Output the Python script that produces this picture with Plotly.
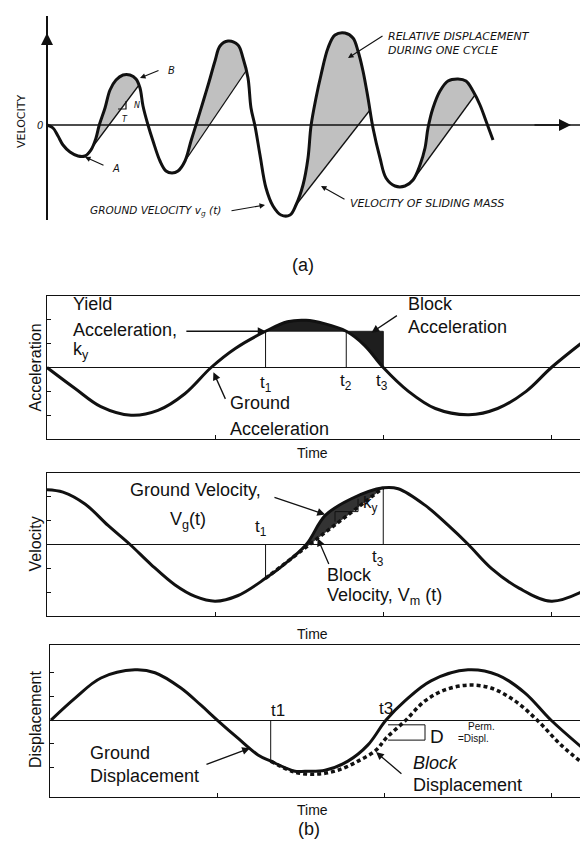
import plotly.graph_objects as go

W, H = 588, 848

# ---------------- Panel (a): velocity record ----------------
a_time = [0, 0.6, 1.1, 1.6, 2.3, 3.1, 3.8, 4.4, 4.9, 5.2, 5.8, 6.3, 6.9, 7.6, 8.3, 8.9, 9.3, 9.6,
          10.1, 10.6, 11.3, 11.9, 12.5, 13.1, 13.8, 14.4, 14.9, 15.6, 16.2, 16.8, 17.3, 18.1, 19.1,
          19.6, 20.1, 20.4, 20.8, 21.3, 21.9, 22.6, 23.4, 24.3, 24.9, 25.6, 26.1, 26.4, 26.9, 27.4,
          28.1, 28.8, 29.8, 30.6, 31.1, 31.6, 32.1, 32.6, 33.3, 33.9, 34.8, 35.8, 36.6, 37.3, 37.8,
          38.1, 38.6, 39.3, 40.1, 41.1, 41.9, 42.6, 43.3, 43.9, 44.6]
a_ground = [0, -0.3, -1.1, -2.0, -2.7, -3.1, -3.1, -2.5, -1.3, -0.1, 1.7, 3.5, 4.5, 5.0, 5.0, 4.6, 3.7, 1.9,
            0, -1.6, -3.6, -4.6, -4.8, -4.6, -3.6, -1.6, 0, 2.3, 4.3, 6.4, 7.9, 8.4, 8.0,
            6.7, 4.7, 1.7, -0.1, -3.0, -6.3, -8.1, -9.0, -9.0, -8.0, -6.0, -3.3, -0.1, 2.7, 5.0,
            7.7, 9.0, 9.2, 8.7, 7.4, 5.4, 2.7, -0.3, -3.3, -5.3, -6.1, -6.1, -5.5, -4.0, -2.3,
            -0.3, 1.7, 3.4, 4.4, 4.6, 4.4, 3.4, 2.0, 0.4, -1.5]
slide_t_start = [4.1, 13.6, 24.9, 36.6]
slide_v_start = [-2.8, -3.9, -8.0, -5.5]
slide_t_end = [9.2, 19.9, 32.3, 42.8]
slide_v_end = [4.0, 5.4, 1.5, 3.0]

# ---------------- Panel (b): acceleration ----------------
acc_time = [0, 0.167, 0.32, 0.5, 0.66, 0.82, 0.976, 1.12, 1.30, 1.43, 1.54, 1.65, 1.78, 1.89, 2.0,
            2.15, 2.31, 2.51, 2.68, 2.85, 3.0, 3.2]
acc_ground = [0, -0.44, -0.82, -1.0, -0.9, -0.55, 0, 0.40, 0.76, 0.96, 0.99, 0.92, 0.76, 0.46, 0,
              -0.50, -0.86, -0.99, -0.86, -0.50, 0, 0.57]
ky = 0.76
t1, t2, t3 = 1.30, 1.78, 2.0

# ---------------- Panel (b): velocity ----------------
vel_time = [0, 0.095, 0.226, 0.363, 0.494, 0.619, 0.762, 0.881, 1.0, 1.137, 1.30, 1.417, 1.542,
            1.655, 1.81, 2.0, 2.089, 2.25, 2.387, 2.506, 2.643, 2.81, 3.0, 3.2]
vel_ground = [1.15, 1.10, 0.85, 0.40, 0, -0.42, -0.85, -1.09, -1.19, -1.07, -0.71, -0.40, 0,
              0.61, 0.96, 1.19, 1.17, 0.82, 0.40, 0, -0.50, -0.92, -1.19, -0.96]
vel_block_time = [1.30, 2.0]
vel_block = [-0.71, 1.19]

# ---------------- Panel (b): displacement ----------------
disp_time = [0.006, 0.15, 0.305, 0.508, 0.628, 0.783, 0.903, 1.0, 1.124, 1.244, 1.32, 1.465, 1.525,
             1.645, 1.782, 1.902, 2.01, 2.123, 2.279, 2.5, 2.679, 2.84, 2.996, 3.2]
disp_ground = [0, 0.46, 0.88, 1.05, 0.99, 0.67, 0.31, 0, -0.38, -0.73, -0.86, -1.07, -1.07,
               -1.05, -0.86, -0.52, 0, 0.40, 0.82, 1.05, 0.94, 0.57, 0, -0.63]
disp_block_time = [1.32, 1.465, 1.603, 1.722, 1.842, 1.95, 2.01, 2.123, 2.243, 2.362, 2.5, 2.638,
                   2.781, 2.919, 3.056, 3.2]
disp_block = [-0.86, -1.09, -1.13, -1.05, -0.86, -0.63, -0.38, -0.02, 0.40, 0.63, 0.73, 0.67,
              0.40, -0.02, -0.52, -0.94]
d_t1 = 1.32

INK = '#111111'
SANS = 'Liberation Sans, Arial, sans-serif'
OBL = 'DejaVu Sans, sans-serif'


def dom_x(p0, p1):
    return [p0 / W, p1 / W]


def dom_y(p0, p1):
    return [1 - p1 / H, 1 - p0 / H]


def refs(i):
    return ('x', 'y') if i == 1 else (f'x{i}', f'y{i}')


fig = go.Figure()


def add_line(xs, ys, i, width=1.0, color=INK, dash=None, shape='linear', fill=None, fillcolor=None):
    xr, yr = refs(i)
    fig.add_trace(go.Scatter(x=xs, y=ys, mode='lines', xaxis=xr, yaxis=yr,
                             line=dict(color=color, width=width, dash=dash, shape=shape, smoothing=1.0),
                             fill=fill, fillcolor=fillcolor, hoverinfo='skip', showlegend=False))


def segment(ts, vs, ta, va, tb, vb):
    xs = [ta] + [t for t in ts if ta < t < tb] + [tb]
    ys = [va] + [v for t, v in zip(ts, vs) if ta < t < tb] + [vb]
    return xs, ys


annotations = []


def text(x, y, s, i, size=18, xanchor='left', yanchor='middle', family=SANS, style='normal', angle=0,
         xref=None, yref=None):
    xr, yr = refs(i)
    annotations.append(dict(x=x, y=y, xref=xref or xr, yref=yref or yr, text=s, showarrow=False,
                            xanchor=xanchor, yanchor=yanchor, textangle=angle,
                            font=dict(family=family, size=size, color=INK, style=style)))


def arrow(x0, y0, x1, y1, i, head=2, size=1.3, width=1.2):
    xr, yr = refs(i)
    annotations.append(dict(x=x1, y=y1, ax=x0, ay=y0, xref=xr, yref=yr, axref=xr, ayref=yr,
                            text='', showarrow=True, arrowhead=head, arrowsize=size,
                            arrowwidth=width, arrowcolor=INK))


# ---- panel (a) ----
GRAY = '#c0c0c0'
for k in range(4):
    add_line([slide_t_start[k], slide_t_end[k]], [slide_v_start[k], slide_v_end[k]], 1, width=1.3)
    sx, sy = segment(a_time, a_ground, slide_t_start[k], slide_v_start[k], slide_t_end[k], slide_v_end[k])
    add_line(sx, sy, 1, width=0, shape='spline', fill='tonexty', fillcolor=GRAY)
add_line([0, 0], [-9.5, 10.9], 1, width=2)
add_line([0, 53.3], [0, 0], 1, width=1.4)
add_line(a_time, a_ground, 1, width=3, shape='spline')
add_line([7.1, 7.9, 7.9], [1.6, 1.6, 2.4], 1, width=1.2)

text(-2.6, 0.4, 'VELOCITY', 1, size=11, xanchor='center', family=OBL, angle=-90)
text(-0.7, 0, '0', 1, size=10, xanchor='center', family=OBL, style='italic')
text(6.3, -4.3, 'A', 1, size=10, family=OBL, style='italic')
arrow(5.8, -4.1, 3.8, -3.2, 1, size=1.0, width=1.1)
text(11.9, 5.5, 'B', 1, size=10, family=OBL, style='italic')
arrow(11.3, 5.5, 9.3, 4.7, 1, size=1.0, width=1.1)
text(8.5, 2.0, 'N', 1, size=8, family=OBL, style='italic')
text(7.3, 0.6, 'T', 1, size=8, family=OBL, style='italic')
text(4.1, -8.6, 'GROUND VELOCITY v<sub>g</sub> (t)', 1, size=10.5, family=OBL, style='italic')
arrow(18.3, -8.6, 21.8, -8.0, 1, size=1.0, width=1.1)
text(33.9, 8.9, 'RELATIVE DISPLACEMENT', 1, size=11, family=OBL, style='italic')
text(33.9, 7.5, 'DURING ONE CYCLE', 1, size=11, family=OBL, style='italic')
arrow(33.7, 9.0, 30.1, 6.7, 1, size=1.0, width=1.1)
text(30.1, -7.8, 'VELOCITY OF SLIDING MASS', 1, size=11, family=OBL, style='italic')
arrow(29.9, -7.5, 27.4, -6.1, 1, size=1.0, width=1.1)
arrow(0, 5.0, 0, 9.2, 1, size=1.6, width=1.5)
arrow(48.6, 0, 52.4, 0, 1, size=1.6, width=1.5)
text(53.8, 0, 't', 1, size=10, xanchor='center', family=OBL, style='italic')

# ---- panel (b) acceleration ----
DARK = '#1e1e1e'
add_line([t1, t3], [ky, ky], 2, width=0.8)
sx, sy = segment(acc_time, acc_ground, t1, ky, t3, 0)
add_line(sx, sy, 2, width=0, shape='spline', fill='tonexty', fillcolor=DARK)
add_line([t1, t1], [0, ky], 2, width=1)
add_line([t2, t2], [0, ky], 2, width=1)
add_line([t3, t3], [0, ky], 2, width=1)
add_line(acc_time, acc_ground, 2, width=3, shape='spline')

text(0.143, 1.34, 'Yield', 2)
text(0.143, 0.78, 'Acceleration,', 2)
text(0.143, 0.36, 'k<sub>y</sub>', 2)
arrow(0.82, ky, t1, ky, 2, size=1.2, width=1.3)
text(t1, -0.34, 't<sub>1</sub>', 2, size=17, xanchor='center')
text(t2, -0.30, 't<sub>2</sub>', 2, size=17, xanchor='center')
text(t3 - 0.01, -0.30, 't<sub>3</sub>', 2, size=17, xanchor='center')
text(1.077, -0.75, 'Ground', 2)
text(1.077, -1.30, 'Acceleration', 2)
arrow(1.065, -0.69, 0.99, -0.1, 2, size=1.2, width=1.3)
text(2.136, 1.34, 'Block', 2)
text(2.136, 0.86, 'Acceleration', 2)
arrow(2.09, 1.11, 1.93, 0.73, 2, size=1.2, width=1.3)
text(27 / W, 0, 'Acceleration', 2, size=16, xanchor='center', angle=-90, xref='paper')
text(1.58, 1 - 445 / H, 'Time', 2, size=14, xanchor='center', yref='paper')

# ---- panel (b) velocity ----
add_line(vel_block_time, vel_block, 3, width=0.5)
sx, sy = segment(vel_time, vel_ground, t1, vel_block[0], t3, vel_block[1])
add_line(sx, sy, 3, width=0, shape='spline', fill='tonexty', fillcolor='#333333')
add_line([t1, t1], [0, vel_block[0]], 3, width=1)
add_line([t3, t3], [0, vel_block[1]], 3, width=1)
add_line(vel_time, vel_ground, 3, width=3, shape='spline')
add_line(vel_block_time, vel_block, 3, width=3.5, dash='4px,3px')
add_line([1.713, 1.713], [0.48, 0.69], 3, width=1)
add_line([1.713, 1.85, 1.85], [0.69, 0.69, 0.96], 3, width=1)

text(0.48, 1.15, 'Ground Velocity,', 3)
text(0.72, 0.50, 'V<sub>g</sub>(t)', 3)
arrow(1.344, 1.0, 1.654, 0.63, 3, size=1.2, width=1.3)
text(1.27, 0.34, 't<sub>1</sub>', 3, size=17, xanchor='center')
text(1.97, -0.29, 't<sub>3</sub>', 3, size=17, xanchor='center')
text(1.87, 0.86, 'k<sub>y</sub>', 3, size=17)
text(1.654, -0.65, 'Block', 3)
text(1.654, -1.09, 'Velocity, V<sub>m</sub> (t)', 3)
arrow(1.68, -0.44, 1.61, 0.13, 3, size=1.2, width=1.3)
text(27 / W, 0, 'Velocity', 3, size=16, xanchor='center', angle=-90, xref='paper')
text(1.58, 1 - 626 / H, 'Time', 3, size=14, xanchor='center', yref='paper')

# ---- panel (b) displacement ----
add_line([d_t1, d_t1], [0, disp_block[0]], 4, width=1)
add_line(disp_time, disp_ground, 4, width=3, shape='spline')
add_line(disp_block_time, disp_block, 4, width=3.5, dash='4px,3px', shape='spline')
add_line([2.022, 2.243, 2.243, 2.022], [-0.10, -0.10, -0.42, -0.42], 4, width=1)

text(1.364, 0.21, 't1', 4, size=17, xanchor='center')
text(2.01, 0.25, 't3', 4, size=17, xanchor='center')
text(0.227, -0.69, 'Ground', 4)
text(0.227, -1.17, 'Displacement', 4)
arrow(0.927, -0.94, 1.196, -0.59, 4, size=1.2, width=1.3)
text(2.159, -0.90, 'Block', 4, style='italic')
text(2.159, -1.36, 'Displacement', 4)
arrow(2.111, -1.15, 1.95, -0.67, 4, size=1.2, width=1.3)
text(2.26, -0.34, 'D', 4, size=19)
text(2.49, -0.13, 'Perm.', 4, size=10)
text(2.43, -0.38, '=Displ.', 4, size=10)
text(27 / W, 0, 'Displacement', 4, size=16, xanchor='center', angle=-90, xref='paper')
text(1.57, 1 - 802 / H, 'Time', 4, size=14, xanchor='center', yref='paper')

annotations.append(dict(x=295 / W, y=1 - 245 / H, xref='paper', yref='paper', text='(a)',
                        showarrow=False, font=dict(family=SANS, size=18, color=INK)))
annotations.append(dict(x=301 / W, y=1 - 833 / H, xref='paper', yref='paper', text='(b)',
                        showarrow=False, font=dict(family=SANS, size=18, color=INK)))

hidden = dict(showline=False, showgrid=False, zeroline=False, showticklabels=False, ticks='',
              fixedrange=True)


def box_x(p0, p1):
    return dict(domain=dom_x(p0, p1), range=[0, 3.2], showline=True, mirror=True, linecolor=INK,
                linewidth=1.3, ticks='inside', ticklen=4, tickcolor=INK, tickvals=[1, 2, 3],
                showticklabels=False, showgrid=False, zeroline=False, fixedrange=True)


def box_y(p0, p1, rng, anchor):
    return dict(domain=dom_y(p0, p1), range=rng, showline=True, mirror=True, linecolor=INK,
                linewidth=1.3, ticks='inside', ticklen=4, tickcolor=INK, tickvals=[-1, -0.5, 0.5, 1],
                showticklabels=False, showgrid=False, zeroline=True, zerolinecolor=INK,
                zerolinewidth=1.2, fixedrange=True, anchor=anchor)


fig.update_layout(
    width=W, height=H, margin=dict(l=0, r=0, t=0, b=0),
    paper_bgcolor='white', plot_bgcolor='white', showlegend=False,
    xaxis=dict(domain=[0, 1], range=[-3.9, 54.9], anchor='y', **hidden),
    yaxis=dict(domain=dom_y(0, 230), range=[-11.3, 11.7], anchor='x', **hidden),
    xaxis2=dict(anchor='y2', **box_x(39, 577)),
    yaxis2=box_y(288, 431, [-1.5, 1.5], 'x2'),
    xaxis3=dict(anchor='y3', **box_x(39, 577)),
    yaxis3=box_y(465, 608, [-1.5, 1.5], 'x3'),
    xaxis4=dict(anchor='y4', **box_x(42, 577)),
    yaxis4=box_y(637, 789, [-1.61, 1.57], 'x4'),
    annotations=annotations,
)

fig.write_html('out.html')
